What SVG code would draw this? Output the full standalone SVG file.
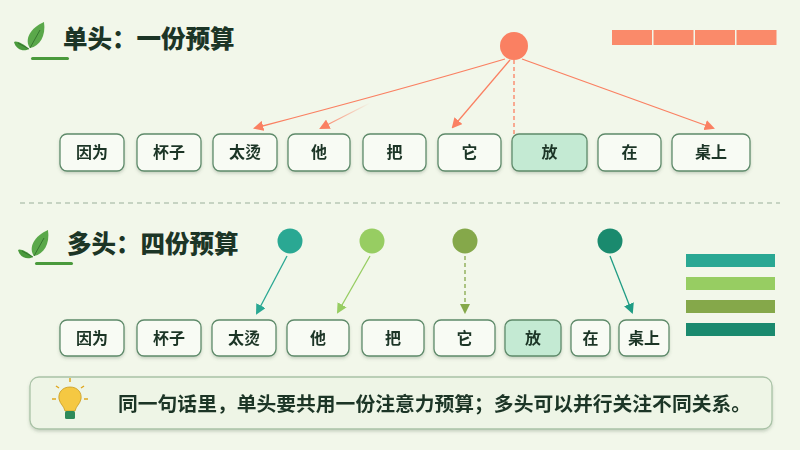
<svg xmlns="http://www.w3.org/2000/svg" width="800" height="450" viewBox="0 0 800 450">
<defs>
<style>
.t{font-family:"Noto Sans CJK SC","Noto Sans",sans-serif;font-weight:bold;fill:#1c3526}
.title{font-size:24.5px;font-weight:900}
.w{font-size:16px;text-anchor:middle}
.box{fill:#f8fbf4;stroke:#5e8a6a;stroke-width:1.3}
.hl{fill:#c4ead3;stroke:#5e8a6a;stroke-width:1.3}
.or{stroke:#fa8062;stroke-width:1.3;fill:none}
</style>
<marker id="ao" viewBox="0 0 10 10" refX="8" refY="5" markerWidth="8" markerHeight="8" orient="auto"><path d="M0,0L10,5L0,10z" fill="#fa8062"/></marker>
<marker id="a1" viewBox="0 0 10 10" refX="8" refY="5" markerWidth="8" markerHeight="8" orient="auto"><path d="M0,0L10,5L0,10z" fill="#2aa893"/></marker>
<marker id="a2" viewBox="0 0 10 10" refX="8" refY="5" markerWidth="8" markerHeight="8" orient="auto"><path d="M0,0L10,5L0,10z" fill="#97cd62"/></marker>
<marker id="a3" viewBox="0 0 10 10" refX="8" refY="5" markerWidth="8" markerHeight="8" orient="auto"><path d="M0,0L10,5L0,10z" fill="#85a84a"/></marker>
<marker id="a4" viewBox="0 0 10 10" refX="8" refY="5" markerWidth="8" markerHeight="8" orient="auto"><path d="M0,0L10,5L0,10z" fill="#1f9c84"/></marker>
<linearGradient id="fade" x1="1" y1="0" x2="0" y2="1"><stop offset="0" stop-color="#fa8062" stop-opacity="0"/><stop offset="1" stop-color="#fa8062"/></linearGradient>
<filter id="sh" x="-10%" y="-10%" width="120%" height="140%"><feDropShadow dx="0" dy="2" stdDeviation="1.5" flood-color="#506850" flood-opacity="0.25"/></filter>
<g id="leaf">
<path d="M14,30 C8,22 14,10 28,4 C30,18 24,28 14,30z" fill="#5aa84a"/>
<path d="M13,31 C8,26 0,22 -2,24 C0,32 8,34 13,31z" fill="#4a9a3c"/>
<path d="M14,30 L24,12 M13,31 L2,25" stroke="#2d6a2a" stroke-width="0.8" fill="none"/>
</g>
</defs>
<rect width="800" height="450" fill="#f2f7ea"/>

<g id="title1">
<use href="#leaf" x="16" y="18"/>
<rect x="31" y="57" width="38" height="3" rx="1.5" fill="#4a9a3c"/>
<text class="t title" x="63" y="48">单头：一份预算</text>
</g>
<g id="bar1" fill="#fa8a6a">
<rect x="612" y="30" width="40" height="15"/><rect x="653.5" y="30" width="40" height="15"/><rect x="695" y="30" width="40" height="15"/><rect x="736.5" y="30" width="40" height="15"/>
</g>
<g id="head1"><circle cx="514" cy="46" r="14" fill="#fa8062"/></g>

<g id="connectors">
<path class="or" d="M505,59 Q400,90 255,128" marker-end="url(#ao)"/>
<path d="M370,103 L321,128" stroke="url(#fade)" stroke-width="1.3" fill="none" marker-end="url(#ao)"/>
<path class="or" d="M510,60 L453,127" marker-end="url(#ao)"/>
<path class="or" d="M514,60 L514,134" stroke-dasharray="4,3"/>
<path class="or" d="M522,59 L713,128" marker-end="url(#ao)"/>
<path d="M287,256 L257,313" stroke="#2aa893" stroke-width="1.3" marker-end="url(#a1)"/>
<path d="M370,256 L338,312" stroke="#97cd62" stroke-width="1.3" marker-end="url(#a2)"/>
<path d="M465,256 L465,312" stroke="#85a84a" stroke-width="1.3" stroke-dasharray="4,3" marker-end="url(#a3)"/>
<path d="M610,256 L632,312" stroke="#1f9c84" stroke-width="1.3" marker-end="url(#a4)"/>
</g>

<g id="row1" filter="url(#sh)">
<g id="r1n1"><rect class="box" x="60" y="134" width="64" height="37" rx="7"/><text class="t w" x="92" y="158">因为</text></g>
<g id="r1n2"><rect class="box" x="137" y="134" width="64" height="37" rx="7"/><text class="t w" x="169" y="158">杯子</text></g>
<g id="r1n3"><rect class="box" x="213" y="134" width="64" height="37" rx="7"/><text class="t w" x="245" y="158">太烫</text></g>
<g id="r1n4"><rect class="box" x="288" y="134" width="62" height="37" rx="7"/><text class="t w" x="319" y="158">他</text></g>
<g id="r1n5"><rect class="box" x="363" y="134" width="63" height="37" rx="7"/><text class="t w" x="394.5" y="158">把</text></g>
<g id="r1n6"><rect class="box" x="438" y="134" width="63" height="37" rx="7"/><text class="t w" x="469.5" y="158">它</text></g>
<g id="r1n7"><rect class="hl" x="512" y="134" width="75" height="37" rx="7"/><text class="t w" x="549.5" y="158">放</text></g>
<g id="r1n8"><rect class="box" x="598" y="134" width="63" height="37" rx="7"/><text class="t w" x="629.5" y="158">在</text></g>
<g id="r1n9"><rect class="box" x="672" y="134" width="78" height="37" rx="7"/><text class="t w" x="711" y="158">桌上</text></g>
</g>

<line x1="20" y1="203" x2="780" y2="203" stroke="#9ab09a" stroke-width="1.2" stroke-dasharray="5,4"/>

<g id="title2">
<use href="#leaf" x="20" y="226"/>
<rect x="35" y="262" width="38" height="3" rx="1.5" fill="#4a9a3c"/>
<text class="t title" x="67" y="253">多头：四份预算</text>
</g>
<g id="heads2">
<circle cx="290" cy="241" r="12.5" fill="#2aa893"/>
<circle cx="372" cy="241" r="12.5" fill="#97cd62"/>
<circle cx="465" cy="241" r="12.5" fill="#85a84a"/>
<circle cx="610" cy="241" r="12.5" fill="#1a8a6e"/>
</g>
<g id="bars2">
<rect x="686" y="254" width="89" height="13" fill="#2aa893"/>
<rect x="686" y="277" width="89" height="13" fill="#97cd62"/>
<rect x="686" y="300" width="89" height="13" fill="#85a84a"/>
<rect x="686" y="323" width="89" height="13" fill="#1a8a6e"/>
</g>

<g id="row2" filter="url(#sh)">
<g id="r2n1"><rect class="box" x="60" y="320" width="64" height="36" rx="7"/><text class="t w" x="92" y="344">因为</text></g>
<g id="r2n2"><rect class="box" x="137" y="320" width="64" height="36" rx="7"/><text class="t w" x="169" y="344">杯子</text></g>
<g id="r2n3"><rect class="box" x="212" y="320" width="64" height="36" rx="7"/><text class="t w" x="244" y="344">太烫</text></g>
<g id="r2n4"><rect class="box" x="287" y="320" width="62" height="36" rx="7"/><text class="t w" x="318" y="344">他</text></g>
<g id="r2n5"><rect class="box" x="362" y="320" width="62" height="36" rx="7"/><text class="t w" x="393" y="344">把</text></g>
<g id="r2n6"><rect class="box" x="434" y="320" width="61" height="36" rx="7"/><text class="t w" x="464.5" y="344">它</text></g>
<g id="r2n7"><rect class="hl" x="505" y="320" width="56" height="36" rx="7"/><text class="t w" x="533" y="344">放</text></g>
<g id="r2n8"><rect class="box" x="571" y="320" width="39" height="36" rx="7"/><text class="t w" x="590.5" y="344">在</text></g>
<g id="r2n9"><rect class="box" x="619" y="320" width="50" height="36" rx="7"/><text class="t w" x="644" y="344">桌上</text></g>
</g>

<g id="tip" filter="url(#sh)">
<rect x="30" y="377" width="742" height="52" rx="9" fill="#eef5e6" stroke="#a9c2a6" stroke-width="1.3"/>
<g id="bulb">
<path d="M70,387 C62,387 58,393 59,399 C60,404 64,406 65,411 L75,411 C76,406 80,404 81,399 C82,393 78,387 70,387z" fill="#f5c842" stroke="#c89a20" stroke-width="0.8"/>
<rect x="65" y="411" width="10" height="8" rx="1.5" fill="#2e8a5a"/>
<path d="M70,378 V382 M56,386 L59,388 M84,386 L81,388 M52,399 H56 M84,399 H88" stroke="#e0a820" stroke-width="1.5"/>
</g>
<text class="t" x="118" y="411" font-size="19.8">同一句话里，单头要共用一份注意力预算；多头可以并行关注不同关系。</text>
</g>
</svg>
